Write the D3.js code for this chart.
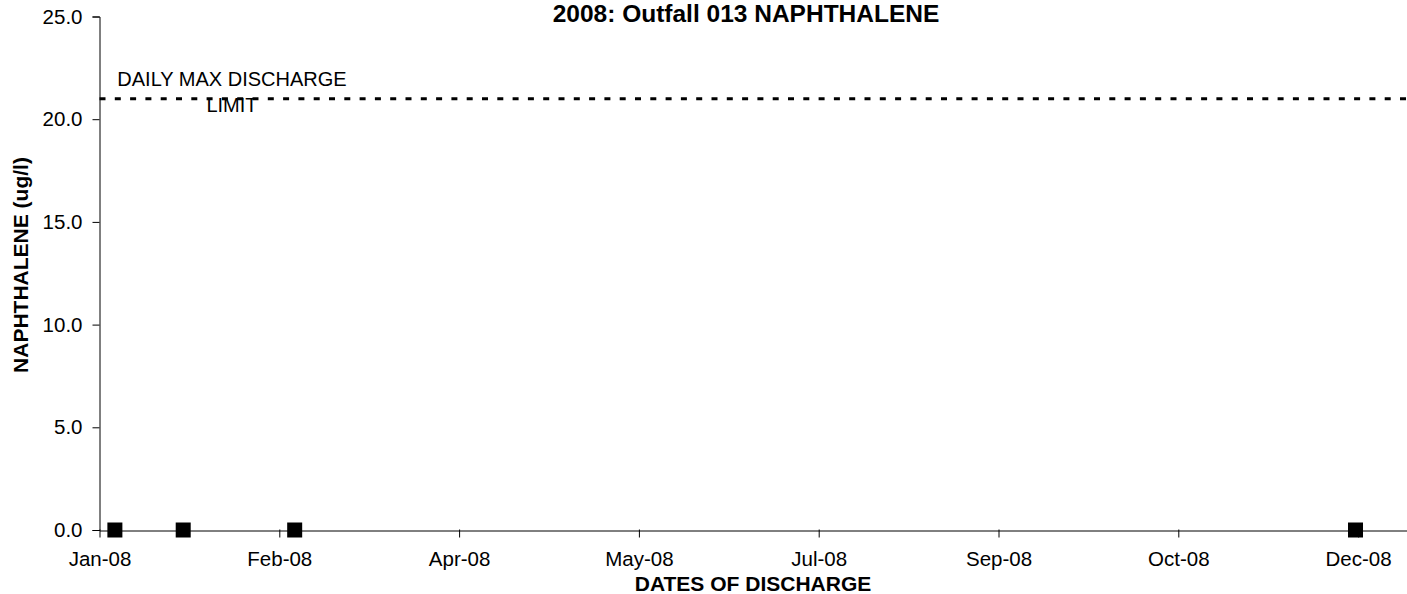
<!DOCTYPE html>
<html>
<head>
<meta charset="utf-8">
<script src="https://cdn.jsdelivr.net/npm/d3@7"></script>
<style>
  html, body { margin: 0; padding: 0; background: #fff; }
  svg { display: block; font-family: "Liberation Sans", Arial, sans-serif; }
</style>
</head>
<body>
<div id="chart"></div>
<script>
// sample dates and measured values (ug/l)
const sampleDates = ['2008-01-05', '2008-01-24', '2008-02-24', '2008-12-15'];
const sampleValues = [0, 0, 0, 0];

// x axis ticks every 50 days starting Jan 1
const xTickDates = ['2008-01-01', '2008-02-20', '2008-04-10', '2008-05-30',
                    '2008-07-19', '2008-09-07', '2008-10-27', '2008-12-16'];
const yTicks = [0, 5, 10, 15, 20, 25];

const limitValue = 21;
const limitLabel = ['DAILY MAX DISCHARGE', 'LIMIT'];

const width = 1407;
const height = 594;

const parse = d3.utcParse('%Y-%m-%d');
const fmt = d3.utcFormat('%b-%y');

const svg = d3.select('#chart')
    .append('svg')
    .attr('width', width)
    .attr('height', height);

const x = d3.scaleUtc()
    .domain([parse('2008-01-01'), parse('2009-01-01')])
    .range([99.5, 99.5 + 366 * 3.596]);

const y = d3.scaleLinear()
    .domain([0, 25])
    .range([530, 16.5]);

// title
svg.append('text')
    .attr('x', 746)
    .attr('y', 22)
    .attr('text-anchor', 'middle')
    .style('font-size', '24.5px')
    .style('font-weight', 'bold')
    .text('2008: Outfall 013 NAPHTHALENE');

// y axis
const yAxis = svg.append('g')
    .attr('transform', 'translate(99.5,0)')
    .call(d3.axisLeft(y)
        .tickValues(yTicks)
        .tickSize(7)
        .tickPadding(10)
        .tickFormat(d3.format('.1f')));
yAxis.select('.domain').attr('stroke', '#000');
yAxis.selectAll('.tick line').attr('stroke', '#000');
yAxis.selectAll('.tick text')
    .style('font-size', '20.5px')
    .attr('fill', '#000')
    .attr('font-family', null);

// x axis
const xAxis = svg.append('g')
    .attr('transform', 'translate(0,530.5)')
    .call(d3.axisBottom(x)
        .tickValues(xTickDates.map(parse))
        .tickSize(7)
        .tickSizeOuter(0)
        .tickPadding(14)
        .tickFormat(fmt));
xAxis.select('.domain').attr('stroke', '#000');
xAxis.selectAll('.tick line').attr('stroke', '#000').attr('y1', -1);
xAxis.selectAll('.tick text')
    .style('font-size', '20.5px')
    .attr('fill', '#000')
    .attr('font-family', null);

// axis titles
svg.append('text')
    .attr('x', 753)
    .attr('y', 591)
    .attr('text-anchor', 'middle')
    .style('font-size', '21px')
    .style('font-weight', 'bold')
    .text('DATES OF DISCHARGE');

svg.append('text')
    .attr('transform', 'translate(28,265) rotate(-90)')
    .attr('text-anchor', 'middle')
    .style('font-size', '21px')
    .style('font-weight', 'bold')
    .text('NAPHTHALENE (ug/l)');

// daily max limit line
svg.append('line')
    .attr('x1', x.range()[0])
    .attr('x2', width)
    .attr('y1', y(limitValue))
    .attr('y2', y(limitValue))
    .attr('stroke', '#000')
    .attr('stroke-width', 3)
    .attr('stroke-dasharray', '6,9.3');

svg.append('g')
    .selectAll('text')
    .data(limitLabel)
    .enter()
    .append('text')
    .attr('x', 232)
    .attr('y', (d, i) => y(limitValue) - 13 + i * 26)
    .attr('text-anchor', 'middle')
    .style('font-size', '20px')
    .text(d => d);

// sample markers
const points = sampleDates.map((d, i) => ({ date: parse(d), value: sampleValues[i] }));
const size = 15;

svg.append('g')
    .selectAll('rect')
    .data(points)
    .enter()
    .append('rect')
    .attr('x', d => x(d.date) - size / 2 + 1)
    .attr('y', d => y(d.value) - size / 2)
    .attr('width', size)
    .attr('height', size)
    .attr('fill', '#000');
</script>
</body>
</html>
